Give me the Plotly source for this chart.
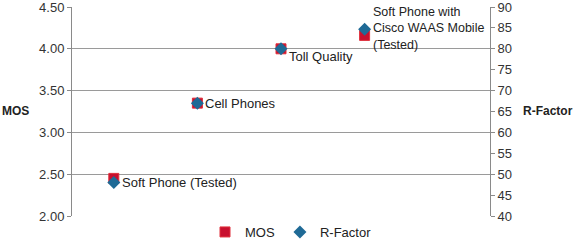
import plotly.graph_objects as go

categories = ["Soft Phone (Tested)", "Cell Phones", "Toll Quality",
              "Soft Phone with<br>Cisco WAAS Mobile<br>(Tested)"]
mos = [2.45, 3.35, 4.00, 4.16]
r_factor = [48, 67, 80, 84.7]
mos_ticks = [2.00, 2.50, 3.00, 3.50, 4.00, 4.50]
r_ticks = [40, 45, 50, 55, 60, 65, 70, 75, 80, 85, 90]

RED = "#c8102e"
BLUE = "#1f6a96"
FONT = "Liberation Sans, Arial, sans-serif"
xs = list(range(len(categories)))

fig = go.Figure()
fig.add_trace(go.Scatter(
    x=xs, y=mos, mode="markers", name="MOS",
    marker=dict(symbol="square", size=10, color=RED,
                line=dict(color="#e0303c", width=1)),
    yaxis="y"))
fig.add_trace(go.Scatter(
    x=xs, y=r_factor, mode="markers", name="R-Factor",
    marker=dict(symbol="diamond", size=10, color=BLUE, line=dict(width=0)),
    yaxis="y2"))

shifts = [(6, -4, 13), (6, 0, 13), (6, -8, 13), (6, 6.5, 12.5)]
for i, (c, m) in enumerate(zip(categories, mos)):
    dx, dy, fs = shifts[i]
    fig.add_annotation(x=xs[i], y=m, xref="x", yref="y", text=c,
                       showarrow=False, xanchor="left", yanchor="middle",
                       align="left", xshift=dx, yshift=dy,
                       font=dict(family=FONT, size=fs, color="#222"))

H = 241
T = 7
B = 0
ph = H - T - B
bottom_px = 241 - 216
fig.update_layout(
    width=575, height=H,
    margin=dict(l=72, r=85, t=T, b=B, autoexpand=False),
    paper_bgcolor="white", plot_bgcolor="white",
    font=dict(family=FONT, size=13, color="#333"),
    showlegend=True,
    legend=dict(orientation="h", x=0.5 + 10 / 418, xanchor="center",
                y=(241 - 232) / ph, yanchor="middle",
                font=dict(family=FONT, size=13, color="#222"),
                itemwidth=30,
                bgcolor="rgba(0,0,0,0)"),
    xaxis=dict(range=[-0.5, 4.5], showgrid=False, zeroline=False,
               showticklabels=False, ticks="", showline=False,
               anchor="y"),
    yaxis=dict(range=[2.0, 4.5], tickvals=mos_ticks,
               domain=[bottom_px / ph, 1],
               ticktext=[f"{v:.2f}" for v in mos_ticks],
               showgrid=True, gridcolor="#9a9a9a", gridwidth=1,
               zeroline=False, showline=True, linecolor="#8a8a8a", linewidth=1,
               ticks="outside", ticklen=4, tickcolor="#8a8a8a",
               automargin=False, ticklabeloverflow="allow",
               tickfont=dict(family=FONT, size=13, color="#333")),
    yaxis2=dict(range=[40, 90], tickvals=r_ticks, overlaying="y", side="right",
                showgrid=False, zeroline=False, showline=True,
                linecolor="#8a8a8a", linewidth=1,
                ticks="outside", ticklen=4, tickcolor="#8a8a8a",
                automargin=False, ticklabeloverflow="allow",
                tickfont=dict(family=FONT, size=13, color="#333")),
)
fig.add_annotation(x=0, xref="paper", xshift=-57, y=(bottom_px / ph + 1) / 2,
                   yref="paper", text="<b>MOS</b>", showarrow=False,
                   xanchor="center",
                   font=dict(family=FONT, size=12, color="#222"))
fig.add_annotation(x=1, xref="paper", xshift=58, y=(bottom_px / ph + 1) / 2,
                   yref="paper", text="<b>R-Factor</b>", showarrow=False,
                   xanchor="center",
                   font=dict(family=FONT, size=12, color="#222"))

fig.write_html("out.html")
